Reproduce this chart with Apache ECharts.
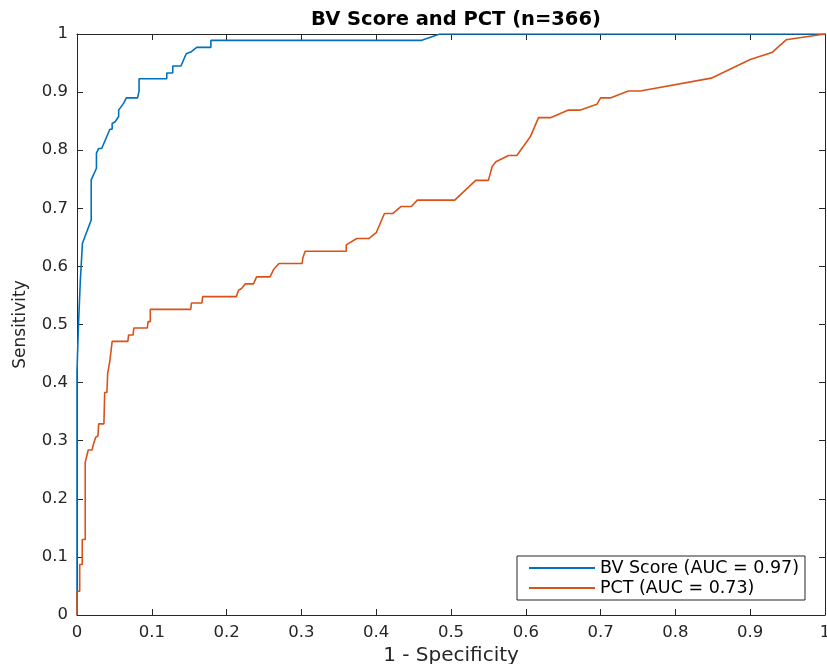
<!DOCTYPE html>
<html>
<head>
<meta charset="utf-8">
<script src="https://cdn.jsdelivr.net/npm/echarts@6/dist/echarts.min.js"></script>
<style>
  html, body { margin: 0; padding: 0; background: #fff; }
  #chart { width: 827px; height: 664px; }
</style>
</head>
<body>
<div id="chart"></div>
<script>
// ROC points: [1 - specificity, sensitivity]
const bvPoints = [
  [0, 0], [0, 0.42], [0.002, 0.5], [0.0045, 0.577], [0.0073, 0.64], [0.019, 0.68],
  [0.019, 0.749], [0.026, 0.769], [0.026, 0.795], [0.029, 0.803], [0.033, 0.803],
  [0.044, 0.836], [0.047, 0.836], [0.047, 0.846], [0.051, 0.849], [0.0557, 0.858],
  [0.0557, 0.869], [0.0624, 0.881], [0.066, 0.89], [0.081, 0.89], [0.083, 0.902],
  [0.083, 0.923], [0.12, 0.923], [0.12, 0.933], [0.128, 0.933], [0.128, 0.945],
  [0.139, 0.945], [0.146, 0.966], [0.152, 0.969], [0.16, 0.977], [0.179, 0.977],
  [0.179, 0.989], [0.46, 0.989], [0.485, 1], [1, 1]
]
const pctPoints = [
  [0, 0], [0, 0.041], [0.0036, 0.041], [0.0036, 0.087], [0.007, 0.087], [0.007, 0.13],
  [0.011, 0.13], [0.011, 0.263], [0.013, 0.266], [0.015, 0.284], [0.02, 0.284],
  [0.022, 0.294], [0.024, 0.296], [0.025, 0.306], [0.028, 0.308], [0.029, 0.329],
  [0.036, 0.329], [0.037, 0.383], [0.04, 0.383], [0.041, 0.416], [0.043, 0.416],
  [0.044, 0.438], [0.046, 0.44], [0.047, 0.471], [0.068, 0.471], [0.069, 0.482],
  [0.075, 0.482], [0.076, 0.494], [0.094, 0.494], [0.095, 0.505], [0.098, 0.505],
  [0.098, 0.526], [0.152, 0.526], [0.153, 0.537], [0.167, 0.537], [0.168, 0.548],
  [0.213, 0.548], [0.216, 0.559], [0.22, 0.562], [0.225, 0.57], [0.236, 0.57],
  [0.24, 0.582], [0.258, 0.582], [0.263, 0.595], [0.27, 0.605], [0.301, 0.605],
  [0.302, 0.615], [0.305, 0.626], [0.36, 0.626], [0.36, 0.637], [0.374, 0.648],
  [0.39, 0.648], [0.4, 0.658], [0.411, 0.691], [0.422, 0.691], [0.433, 0.703],
  [0.447, 0.703], [0.455, 0.714], [0.505, 0.714], [0.533, 0.748], [0.55, 0.748],
  [0.555, 0.772], [0.56, 0.78], [0.577, 0.791], [0.588, 0.791], [0.606, 0.823],
  [0.617, 0.856], [0.633, 0.856], [0.657, 0.869], [0.673, 0.869], [0.695, 0.879],
  [0.7, 0.89], [0.713, 0.89], [0.737, 0.902], [0.753, 0.902], [0.848, 0.924],
  [0.9, 0.956], [0.929, 0.968], [0.948, 0.99], [1, 1]
]
const seriesNames = ['BV Score (AUC = 0.97)', 'PCT (AUC = 0.73)']
const seriesColors = ['#0072BD', '#D95319']

const axisColor = '#262626'
// the reference text is drawn wide, DejaVu Sans gets closest
const font = 'DejaVu Sans, Verdana, sans-serif'

const myChart = echarts.init(document.getElementById('chart'))

const baseAxis = () => ({
  type: 'value',
  min: 0,
  max: 1,
  interval: 0.1,
  splitLine: { show: false },
  axisLine: { show: true, onZero: false, lineStyle: { color: axisColor, width: 1 } },
  axisTick: { show: true, inside: true, length: 6, lineStyle: { color: axisColor } }
})
const labelStyle = { color: axisColor, fontSize: 16.5, fontFamily: font, margin: 9 }

myChart.setOption({
  animation: false,
  title: {
    text: 'BV Score and PCT (n=366)',
    left: 451,
    top: 5,
    textAlign: 'center',
    textStyle: { fontSize: 19.5, fontWeight: 'bold', color: '#000', fontFamily: font }
  },
  grid: { left: 77, right: 2, top: 34, bottom: 49, outerBoundsMode: 'none', containLabel: false },
  legend: {
    show: true,
    orient: 'vertical',
    left: 517,
    top: 556,
    padding: [2, 6, 2, 12],
    itemGap: 0,
    itemWidth: 66,
    itemHeight: 2,
    icon: 'rect',
    borderColor: axisColor,
    borderWidth: 1,
    backgroundColor: '#fff',
    textStyle: { color: '#000', fontSize: 17.5, fontFamily: font, lineHeight: 20 },
    data: seriesNames
  },
  xAxis: [
    Object.assign(baseAxis(), {
      position: 'bottom',
      name: '1 - Specificity',
      nameLocation: 'middle',
      nameGap: 30,
      nameTextStyle: { color: axisColor, fontSize: 20, fontFamily: font },
      axisLabel: labelStyle
    }),
    Object.assign(baseAxis(), { position: 'top', axisLabel: { show: false } })
  ],
  yAxis: [
    Object.assign(baseAxis(), {
      position: 'left',
      name: 'Sensitivity',
      nameLocation: 'middle',
      nameGap: 48,
      nameTextStyle: { color: axisColor, fontSize: 17, fontFamily: font },
      axisLabel: labelStyle
    }),
    Object.assign(baseAxis(), { position: 'right', axisLabel: { show: false } })
  ],
  series: [
    {
      name: seriesNames[0],
      type: 'line',
      data: bvPoints,
      showSymbol: false,
      itemStyle: { color: seriesColors[0] },
      lineStyle: { width: 1.6, color: seriesColors[0] }
    },
    {
      name: seriesNames[1],
      type: 'line',
      data: pctPoints,
      showSymbol: false,
      itemStyle: { color: seriesColors[1] },
      lineStyle: { width: 1.6, color: seriesColors[1] }
    }
  ]
})
</script>
</body>
</html>
